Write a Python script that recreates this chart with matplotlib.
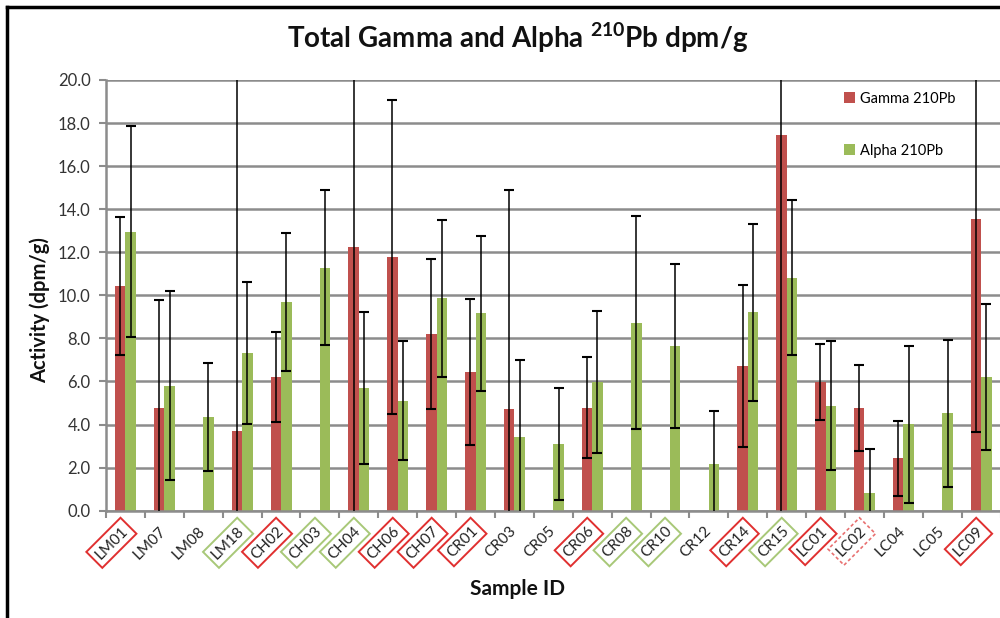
import numpy as np
import matplotlib
matplotlib.use("Agg")
import matplotlib.pyplot as plt
from matplotlib.lines import Line2D

plt.rcParams['font.family'] = ['Lato', 'DejaVu Sans']
plt.rcParams['mathtext.fontset'] = 'custom'
plt.rcParams['mathtext.rm'] = 'Lato:bold'
plt.rcParams['mathtext.bf'] = 'Lato:bold'

samples = ["LM01", "LM07", "LM08", "LM18", "CH02", "CH03", "CH04", "CH06", "CH07",
           "CR01", "CR03", "CR05", "CR06", "CR08", "CR10", "CR12", "CR14", "CR15",
           "LC01", "LC02", "LC04", "LC05", "LC09"]
gamma = [10.45, 4.77, None, 3.69, 6.22, None, 12.23, 11.77, 8.21,
         6.43, 4.71, None, 4.78, None, None, None, 6.72, 17.45,
         5.99, 4.78, 2.43, None, 13.53]
gamma_err = [3.2, 5.0, None, 17.0, 2.1, None, 13.0, 7.3, 3.5,
             3.4, 10.2, None, 2.35, None, None, None, 3.75, 18.0,
             1.77, 2.0, 1.75, None, 9.86]
alpha = [12.96, 5.81, 4.35, 7.31, 9.68, 11.29, 5.70, 5.11, 9.86,
         9.17, 3.41, 3.10, 5.99, 8.73, 7.65, 2.15, 9.21, 10.82,
         4.88, 0.81, 4.01, 4.52, 6.22]
alpha_err = [4.9, 4.4, 2.5, 3.3, 3.2, 3.6, 3.55, 2.77, 3.66,
             3.6, 3.6, 2.6, 3.3, 4.95, 3.8, 2.5, 4.1, 3.6,
             3.0, 2.05, 3.65, 3.4, 3.4]
# label box style: 'r' red box, 'g' green box, 'rd' dashed red box, '' none
box_style = ['r', '', '', 'g', 'r', 'g', 'g', 'r', 'r',
             'r', '', '', 'r', 'g', 'g', '', 'r', 'g',
             'r', 'rd', '', '', 'r']
yticks = [0, 2, 4, 6, 8, 10, 12, 14, 16, 18, 20]

RED = '#C0504D'
GREEN = '#9BBB59'
GRID = '#8C8C8C'

def arr(v):
    return np.array([np.nan if x is None else x for x in v], dtype=float)

g, ge, a, ae = arr(gamma), arr(gamma_err), arr(alpha), arr(alpha_err)
x = np.arange(len(samples))
w = 0.27

fig = plt.figure(figsize=(10, 6.18), dpi=100)
ax = fig.add_axes([0.106, 1 - 510.7 / 618, 0.8946, (510.7 - 80) / 618])

ax.set_axisbelow(True)
ax.yaxis.grid(True, color=GRID, linewidth=1.8)
ax.bar(x - w / 2, g, width=w, color=RED, label='Gamma 210Pb', zorder=2)
ax.bar(x + w / 2, a, width=w, color=GREEN, label='Alpha 210Pb', zorder=2)
ax.errorbar(x - w / 2, g, yerr=ge, fmt='none', ecolor='black', elinewidth=1.1,
            capsize=3.5, capthick=1.5, zorder=3)
ax.errorbar(x + w / 2, a, yerr=ae, fmt='none', ecolor='black', elinewidth=1.1,
            capsize=3.5, capthick=1.5, zorder=3)

ax.set_xlim(-0.5, len(samples) - 0.5)
ax.set_ylim(0, 20)
ax.set_yticks(yticks)
ax.set_yticklabels([f"{v:.1f}" for v in yticks], fontsize=12, color='#333333')
ax.tick_params(axis='y', length=5, width=1.5, color=GRID, pad=6)

ax.set_xticks(x)
ax.set_xticklabels(samples, rotation=45, ha='right', va='center',
                   rotation_mode='anchor', fontsize=11, color='#222222')
ax.set_xticks(np.arange(len(samples) + 1) - 0.5, minor=True)
ax.tick_params(axis='x', which='major', length=0, pad=13)
ax.tick_params(axis='x', which='minor', length=5, width=1.5, color=GRID)

for lbl, st in zip(ax.get_xticklabels(), box_style):
    if st == 'r':
        lbl.set_bbox(dict(boxstyle='square,pad=0.28', fc='white', ec='#E03030', lw=1.4))
    elif st == 'g':
        lbl.set_bbox(dict(boxstyle='square,pad=0.28', fc='white', ec='#A8C878', lw=1.4))
    elif st == 'rd':
        lbl.set_bbox(dict(boxstyle='square,pad=0.28', fc='white', ec='#E87070', lw=1.2,
                          ls=(0, (2, 1.5))))

for s in ['top', 'right']:
    ax.spines[s].set_visible(False)
for s in ['left', 'bottom']:
    ax.spines[s].set_color(GRID)
    ax.spines[s].set_linewidth(1.8)

fig.text(0.518, 1 - 38 / 618, r"Total Gamma and Alpha $^{210}$Pb dpm/g",
         ha='center', va='center', fontsize=20, fontweight='bold', color='#111111')
fig.text(40 / 1000, 1 - 310 / 618, "Activity (dpm/g)", rotation=90, ha='center',
         va='center', fontsize=14.5, fontweight='bold', color='#111111')
fig.text(518 / 1000, 1 - 589 / 618, "Sample ID", ha='center', va='center',
         fontsize=15, fontweight='bold', color='#111111')

leg = ax.legend(loc='upper left', bbox_to_anchor=(838 / 1000, 1 - 86 / 618),
                bbox_transform=fig.transFigure, frameon=False, fontsize=10.5,
                handlelength=0.75, handleheight=0.75, handletextpad=0.35,
                labelspacing=2.6, borderaxespad=0)

fig.add_artist(Line2D([7 / 1000, 1], [1 - 7 / 618, 1 - 7 / 618], color='black',
                      lw=2.5, transform=fig.transFigure))
fig.add_artist(Line2D([7 / 1000, 7 / 1000], [0, 1 - 7 / 618], color='black',
                      lw=2.5, transform=fig.transFigure))

fig.savefig('out.png', dpi=100, facecolor='white')
